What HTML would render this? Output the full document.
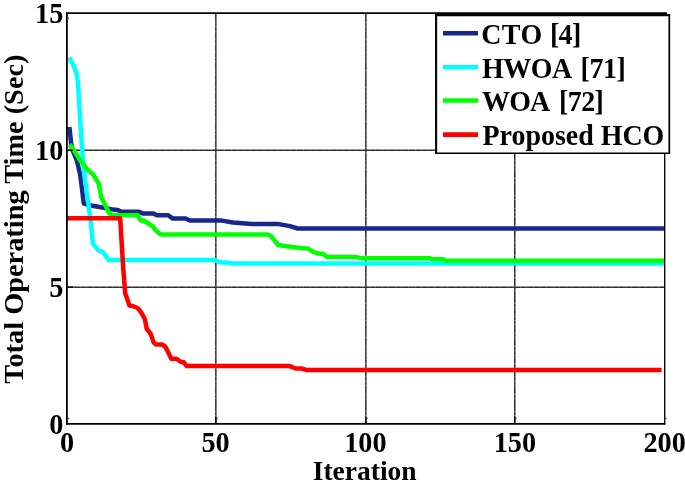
<!DOCTYPE html>
<html>
<head>
<meta charset="utf-8">
<title>Total Operating Time vs Iteration</title>
<style>
html,body{margin:0;padding:0;background:#fff;}
body{width:685px;height:489px;overflow:hidden;}
svg{display:block;}
text{font-family:"Liberation Serif","Times New Roman",serif;font-weight:bold;font-size:28px;fill:#000;}
.leg text{font-size:27.95px;}
</style>
</head>
<body>
<svg width="685" height="489" viewBox="0 0 685 489">
<rect x="0" y="0" width="685" height="489" fill="#fff"/>
<!-- grid -->
<g stroke="#2c2c2c" stroke-width="1.5" stroke-dasharray="4.15 0.17" fill="none">
<line x1="215.85" y1="14" x2="215.85" y2="423"/>
<line x1="365.85" y1="14" x2="365.85" y2="423"/>
<line x1="514.75" y1="14" x2="514.75" y2="423"/>
<line x1="67" y1="150.25" x2="665" y2="150.25" stroke-dasharray="6.4 0.17"/>
<line x1="67" y1="287.15" x2="665" y2="287.15" stroke-dasharray="6.4 0.17"/>
</g>
<!-- curves -->
<g fill="none" stroke-width="4.5" stroke-linejoin="round" stroke-linecap="butt">
<polyline stroke="#16288a" points="69.4,127 71.2,144 72.5,150 77,160.9 80.2,174.8 82,188.7 83.7,203.3 89.1,205.2 99.6,207 113.5,209.6 117.8,209.9 121.3,211.7 138.6,211.7 142.7,213.4 153,213.4 157,215.3 168.3,215.3 172.4,218.4 185.7,218.4 189.8,220.4 222,220.6 233,222.5 251.5,224.1 279,224.1 290,226.1 297.6,228.5 664.9,228.5"/>
<polyline stroke="#00ffff" points="69.4,57.6 74,66.5 76.6,73.7 77.9,82.2 78.8,95 79.5,110 82.9,160 85,180 87.9,200 90.7,221.4 92.9,243.3 98.6,250.7 102.9,252 108.6,260 214.7,260 220.3,262.4 228,262.5 231,263.6 664.9,263.6"/>
<polyline stroke="#00ff00" points="69.6,144.3 75.2,152.2 80.4,160.9 88.3,170.4 93.5,174.8 98.7,183.5 101.3,197.4 104.8,204.3 109.1,213 111.7,215.2 137.6,215.2 140.7,220.5 143.7,220.5 153,226.6 156,230.7 161,234.5 267.2,234.5 270.9,235.9 278.2,245.1 292,247 303,248.2 308,248.6 313.9,252.1 318.2,253.5 322.6,253.7 327,256.9 355.5,256.9 359.9,257.9 364.4,258.2 430,258.2 432.5,259.3 443.2,259.3 445.5,260.8 664.9,260.8"/>
<polyline stroke="#ff0000" points="67,218.3 120.2,218.3 123.3,269.5 125.3,294 126,295.3 129.4,305.6 132.5,306 137.6,308 140.7,311.7 144.8,318.9 146.8,329 150.9,334.2 153.6,342.4 156,344.4 162,344.4 165.2,346.5 168.3,352.6 171.3,358.7 176.5,358.7 180.6,361.8 183.6,362.1 186.7,366.1 289.8,366.1 295.7,368.5 301.5,368.5 306.2,369.9 661.6,369.9"/>
</g>
<!-- axes box -->
<g stroke="#000" fill="none">
<line x1="66" y1="13.2" x2="667" y2="13.2" stroke-width="1.8"/>
<line x1="66" y1="423.8" x2="665.4" y2="423.8" stroke-width="1.75"/>
<line x1="66.9" y1="12.4" x2="66.9" y2="424.6" stroke-width="1.8"/>
<line x1="664.7" y1="12.4" x2="664.7" y2="424.5" stroke-width="1.35"/>
<g stroke-width="1" stroke="#111">
<line x1="67.6" y1="18.2" x2="69" y2="18.2"/>
<line x1="67.6" y1="418.3" x2="69.2" y2="418.3"/>
<line x1="216.3" y1="418.2" x2="217.7" y2="418.2"/>
<line x1="366.3" y1="418.2" x2="367.7" y2="418.2"/>
<line x1="515.2" y1="418.2" x2="516.6" y2="418.2"/>
<line x1="665.2" y1="418.3" x2="666.6" y2="418.3"/>
</g>
<!-- ticks -->
<g stroke-width="1.3">
<line x1="215.85" y1="417" x2="215.85" y2="423"/>
<line x1="365.85" y1="417" x2="365.85" y2="423"/>
<line x1="514.75" y1="417" x2="514.75" y2="423"/>
<line x1="67" y1="150.25" x2="73" y2="150.25"/>
<line x1="67" y1="287.15" x2="73" y2="287.15"/>
</g>
</g>
<!-- legend -->
<g class="leg">
<rect x="436.1" y="15" width="233.2" height="138" fill="#fff" stroke="none"/>
<g stroke="#000" fill="none">
<line x1="435" y1="15.1" x2="670.2" y2="15.1" stroke-width="2.3"/>
<line x1="436.1" y1="14" x2="436.1" y2="154" stroke-width="2.1"/>
<line x1="669.3" y1="14" x2="669.3" y2="154" stroke-width="1.7"/>
<line x1="435" y1="153.25" x2="670.2" y2="153.25" stroke-width="1.5"/>
</g>
<g stroke-width="4.6" fill="none">
<line x1="443" y1="33.3" x2="478" y2="33.3" stroke="#16288a"/>
<line x1="443" y1="67.3" x2="478" y2="67.3" stroke="#00ffff"/>
<line x1="443" y1="100.5" x2="478" y2="100.5" stroke="#00ff00"/>
<line x1="443" y1="134.6" x2="478" y2="134.6" stroke="#ff0000"/>
</g>
<text transform="translate(0,44.2) scale(1,1.03)"><tspan x="481.2" letter-spacing="0.45">CTO</tspan><tspan x="549.9" letter-spacing="-0.6">[4]</tspan></text>
<text transform="translate(0,77.9) scale(1,1.03)"><tspan x="482" letter-spacing="-0.5">HWOA</tspan><tspan x="580.6" letter-spacing="-0.45">[71]</tspan></text>
<text transform="translate(0,110.9) scale(1,1.03)"><tspan x="482.1" letter-spacing="-0.85">WOA</tspan><tspan x="559" letter-spacing="-0.55">[72]</tspan></text>
<text transform="translate(0,144.85) scale(1,1.03)" x="482.5">Proposed HCO</text>
</g>
<!-- y tick labels -->
<g text-anchor="end">
<text transform="translate(63.3,23.3) scale(1.01,1.085)">15</text>
<text transform="translate(63.3,160.1) scale(1.01,1.085)">10</text>
<text transform="translate(63.3,297.0) scale(1.01,1.085)">5</text>
<text transform="translate(63.3,433.7) scale(1.01,1.085)">0</text>
</g>
<!-- x tick labels -->
<g text-anchor="middle">
<text transform="translate(67.0,452.3) scale(1.01,1.085)">0</text>
<text transform="translate(215.6,452.3) scale(1.01,1.085)">50</text>
<text transform="translate(365.4,452.3) scale(1.01,1.085)">100</text>
<text transform="translate(514.9,452.3) scale(1.01,1.085)">150</text>
<text transform="translate(664.6,452.3) scale(1.01,1.085)">200</text>
<text x="364.7" y="479.5" style="font-size:27.5px">Iteration</text>
</g>
<text transform="translate(23.4,219.2) rotate(-90)" text-anchor="middle" style="font-size:28.35px">Total Operating Time (Sec)</text>
</svg>
</body>
</html>
